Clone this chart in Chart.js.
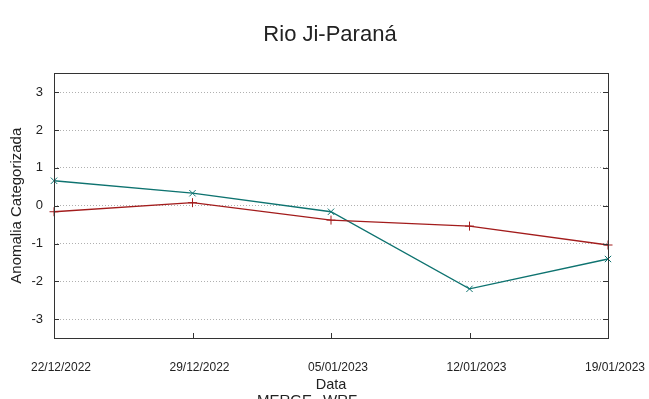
<!DOCTYPE html>
<html>
<head>
<meta charset="utf-8">
<script src="https://cdn.jsdelivr.net/npm/chart.js@4.4.0/dist/chart.umd.min.js"></script>
<style>
  html, body { margin: 0; padding: 0; background: #fff; overflow: hidden; }
</style>
</head>
<body>
<canvas id="lineChart" width="649" height="399"></canvas>
<script>
// data
var dates = ['22/12/2022', '29/12/2022', '05/01/2023', '12/01/2023', '19/01/2023'];
var seriesNames = ['MERGE', 'WRF'];
var redValues = [-0.16, 0.08, -0.38, -0.54, -1.04];
var tealValues = [0.66, 0.33, -0.16, -2.20, -1.41];
var yTicks = [-3, -2, -1, 0, 1, 2, 3];

var ctx = document.getElementById('lineChart').getContext('2d');

// box round the plot + small inside tick marks, and the clipped key below
var framePlugin = {
    id: 'frame',
    afterDraw: function (chart) {
        var a = chart.chartArea;
        var c = chart.ctx;
        var ys = chart.scales.y;
        var xs = chart.scales.x;
        c.save();
        c.strokeStyle = '#333';
        c.lineWidth = 1;
        yTicks.forEach(function (v) {
            var py = Math.round(ys.getPixelForValue(v)) + 0.5;
            c.beginPath();
            c.moveTo(a.left, py); c.lineTo(a.left + 5, py);
            c.moveTo(a.right, py); c.lineTo(a.right - 5, py);
            c.stroke();
        });
        dates.forEach(function (d, i) {
            var px = Math.round(xs.getPixelForValue(i)) + 0.5;
            c.beginPath();
            c.moveTo(px, a.bottom); c.lineTo(px, a.bottom - 5);
            c.stroke();
        });
        c.strokeRect(Math.round(a.left) + 0.5, Math.round(a.top) + 0.5,
            Math.round(a.right - a.left), Math.round(a.bottom - a.top));

        // key (mostly below the picture edge)
        c.fillStyle = '#222';
        c.font = '15px "Liberation Sans", sans-serif';
        c.textBaseline = 'top';
        c.fillText(seriesNames[0], 257, 393);
        c.fillText(seriesNames[1], 323, 393);
        c.restore();
    }
};

var chartData = {
    labels: dates,
    datasets: [
        {
            label: seriesNames[0],
            data: redValues,
            borderColor: '#a31c1c',
            backgroundColor: '#a31c1c',
            borderWidth: 1.3,
            pointStyle: 'cross',
            pointRadius: 4.5,
            pointBorderWidth: 1,
            tension: 0
        },
        {
            label: seriesNames[1],
            data: tealValues,
            borderColor: '#0e7370',
            backgroundColor: '#0e7370',
            borderWidth: 1.3,
            pointStyle: 'crossRot',
            pointRadius: 4.5,
            pointBorderWidth: 1,
            tension: 0
        }
    ]
};

var chartOptions = {
    responsive: false,
    animation: false,
    layout: { autoPadding: false, padding: { left: 11, right: 0, top: 0, bottom: 0 } },
    plugins: {
        legend: { display: false },
        tooltip: { enabled: false },
        title: {
            display: true,
            text: 'Rio Ji-Paraná',
            color: '#222',
            font: { family: '"Liberation Sans", sans-serif', size: 22, weight: 'normal' },
            padding: { top: 22, bottom: 25 }
        }
    },
    scales: {
        x: {
            type: 'category',
            offset: false,
            grid: { display: false, drawTicks: false },
            border: { display: false },
            ticks: {
                color: '#222',
                padding: 22,
                labelOffset: 7,
                maxRotation: 0,
                autoSkip: false,
                font: { family: '"Liberation Sans", sans-serif', size: 12 }
            },
            title: {
                display: true,
                text: 'Data',
                color: '#222',
                padding: { top: 0, bottom: 5 },
                font: { family: '"Liberation Sans", sans-serif', size: 14.5 }
            },
            afterFit: function (scale) {
                scale.height = 61;
                scale.paddingLeft = 0;
                scale.paddingRight = 0;
            }
        },
        y: {
            min: -3.5,
            max: 3.5,
            grid: {
                color: '#b0b0b0',
                lineWidth: 1,
                drawTicks: false
            },
            border: { display: false, dash: [1, 2] },
            ticks: {
                color: '#222',
                padding: 11,
                font: { family: '"Liberation Sans", sans-serif', size: 13 }
            },
            title: {
                display: true,
                text: 'Anomalia Categorizada',
                color: '#222',
                padding: { top: -3, bottom: 0 },
                font: { family: '"Liberation Sans", sans-serif', size: 15 }
            },
            afterBuildTicks: function (scale) {
                scale.ticks = yTicks.map(function (v) { return { value: v }; });
            },
            afterFit: function (scale) { scale.width = 43; }
        },
        // empty right axis, only to hold the right margin
        yRight: {
            position: 'right',
            min: -3.5,
            max: 3.5,
            grid: { display: false, drawTicks: false },
            border: { display: false },
            ticks: { display: false },
            afterFit: function (scale) { scale.width = 41; }
        }
    }
};

var lineChart = new Chart(ctx, {
    type: 'line',
    data: chartData,
    options: chartOptions,
    plugins: [framePlugin]
});
</script>
</body>
</html>
